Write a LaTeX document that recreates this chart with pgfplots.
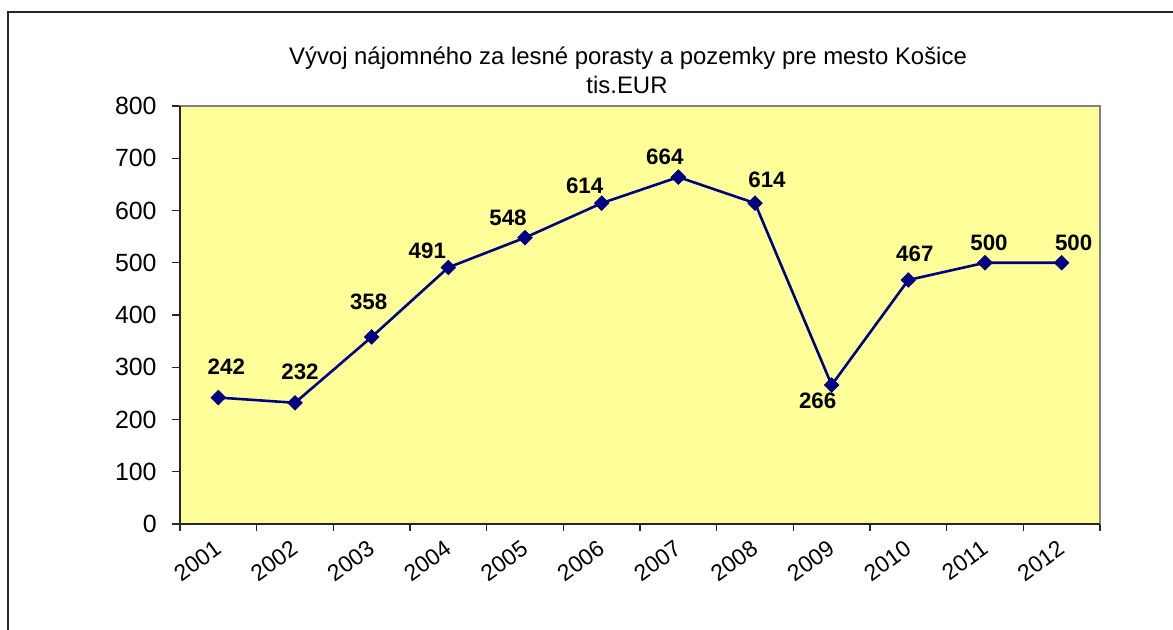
\documentclass[border=0pt]{standalone}
\usepackage{fontspec}
\setmainfont{Liberation Sans}
\usepackage{pgfplots}
\usepackage{pgfplotstable}
\pgfplotsset{compat=1.18}
\definecolor{plotyellow}{HTML}{FFFF99}
\definecolor{navyline}{HTML}{000080}

\pgfplotstableread{
x y dx dy
0 242 4 11.5
1 232 2.5 11.7
2 358 -1.5 13.5
3 491 -10.5 4.7
4 548 -8.5 6.2
5 614 -8.5 4.7
6 664 -6.75 6.4
7 614 6 7.7
8 266 -7 -11.7
9 467 3.25 9.2
10 500 2 5.9
11 500 6 5.9
}\datatable

\begin{document}
\begin{tikzpicture}
\useasboundingbox (0,0) rectangle (586.5bp,315bp);
\fill[white] (0,0) rectangle (586.5bp,315bp);
\draw[line width=0.6bp, black!85] (4bp,-2bp) -- (4bp,309bp) -- (590bp,309bp);
\node[anchor=base, inner sep=0pt, font=\fontsize{12}{14}\selectfont] at (314bp,282.5bp) {Vývoj nájomného za lesné porasty a pozemky pre mesto Košice};
\node[anchor=base, inner sep=0pt, font=\fontsize{12}{14}\selectfont] at (313.5bp,268.3bp) {tis.EUR};
\begin{axis}[
  at={(90bp,53bp)}, anchor=south west,
  scale only axis, width=460bp, height=209bp,
  xmin=-0.5, xmax=11.5, ymin=0, ymax=800,
  xtick={0,...,11},
  xticklabels={2001,2002,2003,2004,2005,2006,2007,2008,2009,2010,2011,2012},
  major x tick style={draw=none},
  minor xtick={-0.5,0.5,...,11.5},
  ytick={0,100,...,800},
  tick pos=left,
  tick align=outside,
  major tick length=4bp, minor tick length=3.5bp,
  tick style={black!85, line width=0.7bp},
  axis background/.style={fill=plotyellow},
  axis line style={draw=gray, line width=1bp},
  x tick label style={xshift=-2.5bp, yshift=-3.5bp, rotate=36, anchor=north east, inner sep=0pt, font=\fontsize{11.5}{13}\selectfont},
  y tick label style={inner sep=0pt, xshift=-7.5bp, font=\fontsize{12.5}{14}\selectfont},
  /pgf/number format/assume math mode=true,
  clip=false,
]
\addplot[color=navyline, line width=1.3bp, mark=square*, mark size=2.6bp,
  mark options={rotate=45, fill=navyline, draw=navyline, line width=0.3bp},
  visualization depends on={\thisrow{dx}\as\labeldx},
  visualization depends on={\thisrow{dy}\as\labeldy},
  nodes near coords,
  nodes near coords style={anchor=base, inner sep=0pt, xshift=\labeldx bp, yshift=\labeldy bp, font=\bfseries\fontsize{11.2}{13}\selectfont, text=black},
] table[x=x, y=y] {\datatable};
\draw[black!85, line width=1bp] (rel axis cs:0,1) -- (rel axis cs:0,0) -- (rel axis cs:1,0);
\end{axis}
\end{tikzpicture}
\end{document}
